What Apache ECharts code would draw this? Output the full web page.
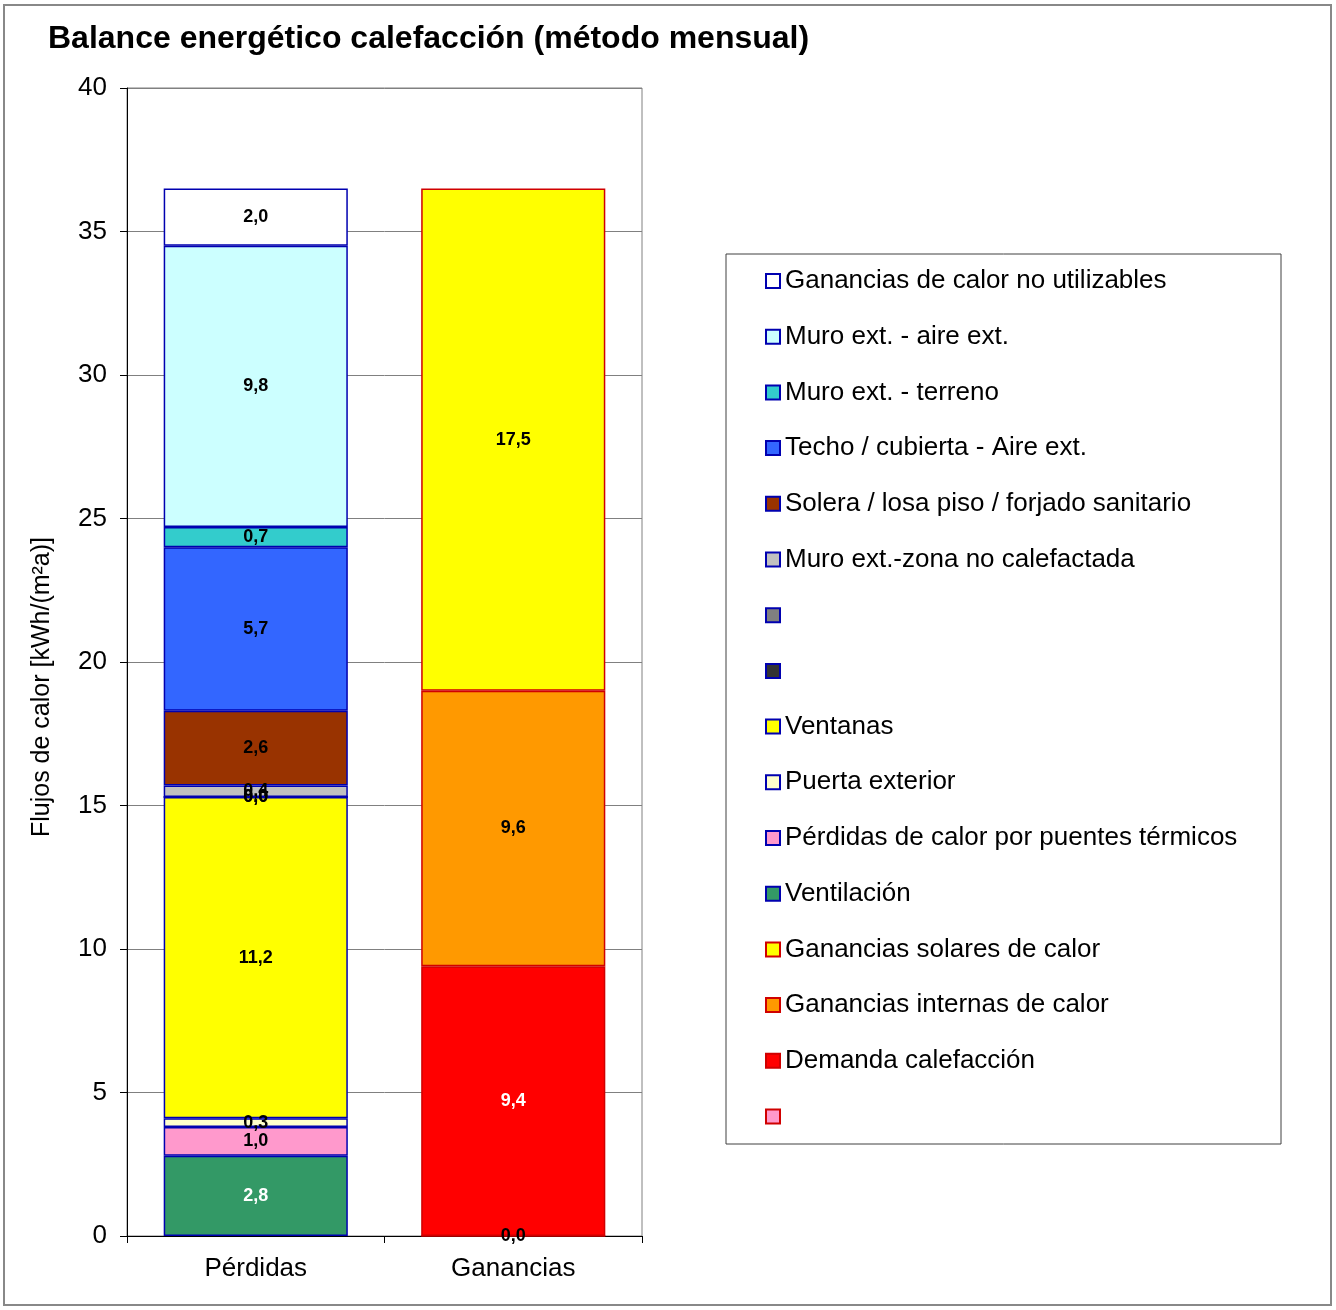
<!DOCTYPE html>
<html>
<head>
<meta charset="utf-8">
<title>Balance energético calefacción</title>
<script src="https://cdn.jsdelivr.net/npm/echarts@6/dist/echarts.min.js"></script>
<style>
  html, body { margin: 0; padding: 0; background: #fff; }
  #chart { width: 1336px; height: 1310px; }
</style>
</head>
<body>
<div id="chart"></div>
<script>
// categorias del eje x
var categories = ['Pérdidas', 'Ganancias']

// series en orden de apilado (de abajo hacia arriba)
var seriesNames = [
  ' ',
  'Demanda calefacción',
  'Ganancias internas de calor',
  'Ganancias solares de calor',
  'Ventilación',
  'Pérdidas de calor por puentes térmicos',
  'Puerta exterior',
  'Ventanas',
  '  ',
  '   ',
  'Muro ext.-zona no calefactada',
  'Solera / losa piso / forjado sanitario',
  'Techo / cubierta - Aire ext.',
  'Muro ext. - terreno',
  'Muro ext. - aire ext.',
  'Ganancias de calor no utilizables'
]
// valores en kWh/(m²a)
var perdidasValues = [null, null, null, null, 2.8, 1.0, 0.3, 11.2, 0.0, 0.0, 0.4, 2.6, 5.7, 0.7, 9.8, 2.0]
var gananciasValues = [0.0, 9.4, 9.6, 17.5, null, null, null, null, null, null, null, null, null, null, null, null]

var yTicks = { min: 0, max: 40, interval: 5 }

// estilos (colores de relleno / borde / color de etiqueta)
var fillColors = ['#FF99CC', '#FF0000', '#FF9900', '#FFFF00', '#339966', '#FF99CC', '#FFFFCC', '#FFFF00',
  '#333333', '#808080', '#C0C0C0', '#993300', '#3366FF', '#33CCCC', '#CCFFFF', '#FFFFFF']
var borderColors = ['#D00000', '#D00000', '#D00000', '#D00000', '#0000B0', '#0000B0', '#0000B0', '#0000B0',
  '#0000B0', '#0000B0', '#0000B0', '#0000B0', '#0000B0', '#0000B0', '#0000B0', '#0000B0']
var labelColors = ['#000', '#fff', '#000', '#000', '#fff', '#000', '#000', '#000',
  '#000', '#000', '#000', '#000', '#000', '#000', '#000', '#000']

var font = 'Liberation Sans, Arial, sans-serif'

var chart = echarts.init(document.getElementById('chart'))

var series = seriesNames.map(function (name, i) {
  return {
    name: name,
    type: 'bar',
    stack: 'total',
    barWidth: '71.5%',
    data: [perdidasValues[i], gananciasValues[i]],
    itemStyle: {
      color: fillColors[i],
      borderColor: borderColors[i],
      borderWidth: 1.5
    },
    label: {
      show: true,
      position: 'inside',
      color: labelColors[i],
      fontFamily: font,
      fontWeight: 'bold',
      fontSize: 18,
      formatter: function (p) {
        return p.value == null ? '' : p.value.toFixed(1).replace('.', ',')
      }
    },
    emphasis: { disabled: true }
  }
})

// leyenda: orden inverso al apilado
var legendData = seriesNames.slice().reverse().map(function (name) {
  var i = seriesNames.indexOf(name)
  return {
    name: name,
    itemStyle: { color: fillColors[i], borderColor: borderColors[i], borderWidth: 2 }
  }
})

chart.setOption({
  animation: false,
  backgroundColor: '#fff',
  title: {
    text: 'Balance energético calefacción (método mensual)',
    left: 48,
    top: 23,
    padding: 0,
    textStyle: { fontFamily: font, fontWeight: 'bold', fontSize: 32, color: '#000' }
  },
  legend: {
    orient: 'vertical',
    left: 765,
    top: 268,
    padding: 0,
    icon: 'rect',
    itemWidth: 14,
    itemHeight: 14,
    itemGap: 29.7,
    selectedMode: false,
    data: legendData,
    textStyle: { fontFamily: font, fontSize: 26, lineHeight: 26, color: '#000' }
  },
  grid: {
    left: 127,
    right: 694,
    top: 88,
    bottom: 74,
    show: true,
    borderColor: '#808080',
    borderWidth: 1
  },
  xAxis: {
    type: 'category',
    data: categories,
    axisLine: { lineStyle: { color: '#000', width: 1 } },
    axisTick: { show: true, length: 7, lineStyle: { color: '#000' } },
    axisLabel: { margin: 20, fontFamily: font, fontSize: 26, color: '#000' }
  },
  yAxis: {
    type: 'value',
    min: yTicks.min,
    max: yTicks.max,
    interval: yTicks.interval,
    name: 'Flujos de calor [kWh/(m²a)]',
    nameLocation: 'middle',
    nameGap: 72,
    nameTextStyle: { fontFamily: font, fontSize: 25, color: '#000', padding: [0, 0, 0, -50] },
    axisLine: { show: true, lineStyle: { color: '#000', width: 1 } },
    axisTick: { show: true, length: 7, lineStyle: { color: '#000' } },
    axisLabel: { margin: 20, fontFamily: font, fontSize: 26, color: '#000' },
    splitLine: { lineStyle: { color: '#808080', width: 1 } }
  },
  graphic: [
    // marco exterior del grafico
    {
      type: 'rect',
      shape: { x: 4, y: 5, width: 1327, height: 1300 },
      style: { fill: 'none', stroke: '#888', lineWidth: 2 },
      silent: true
    },
    // recuadro de la leyenda
    {
      type: 'rect',
      shape: { x: 726, y: 254, width: 555, height: 890 },
      style: { fill: 'none', stroke: '#404040', lineWidth: 1 },
      silent: true
    }
  ],
  series: series
})
</script>
</body>
</html>
